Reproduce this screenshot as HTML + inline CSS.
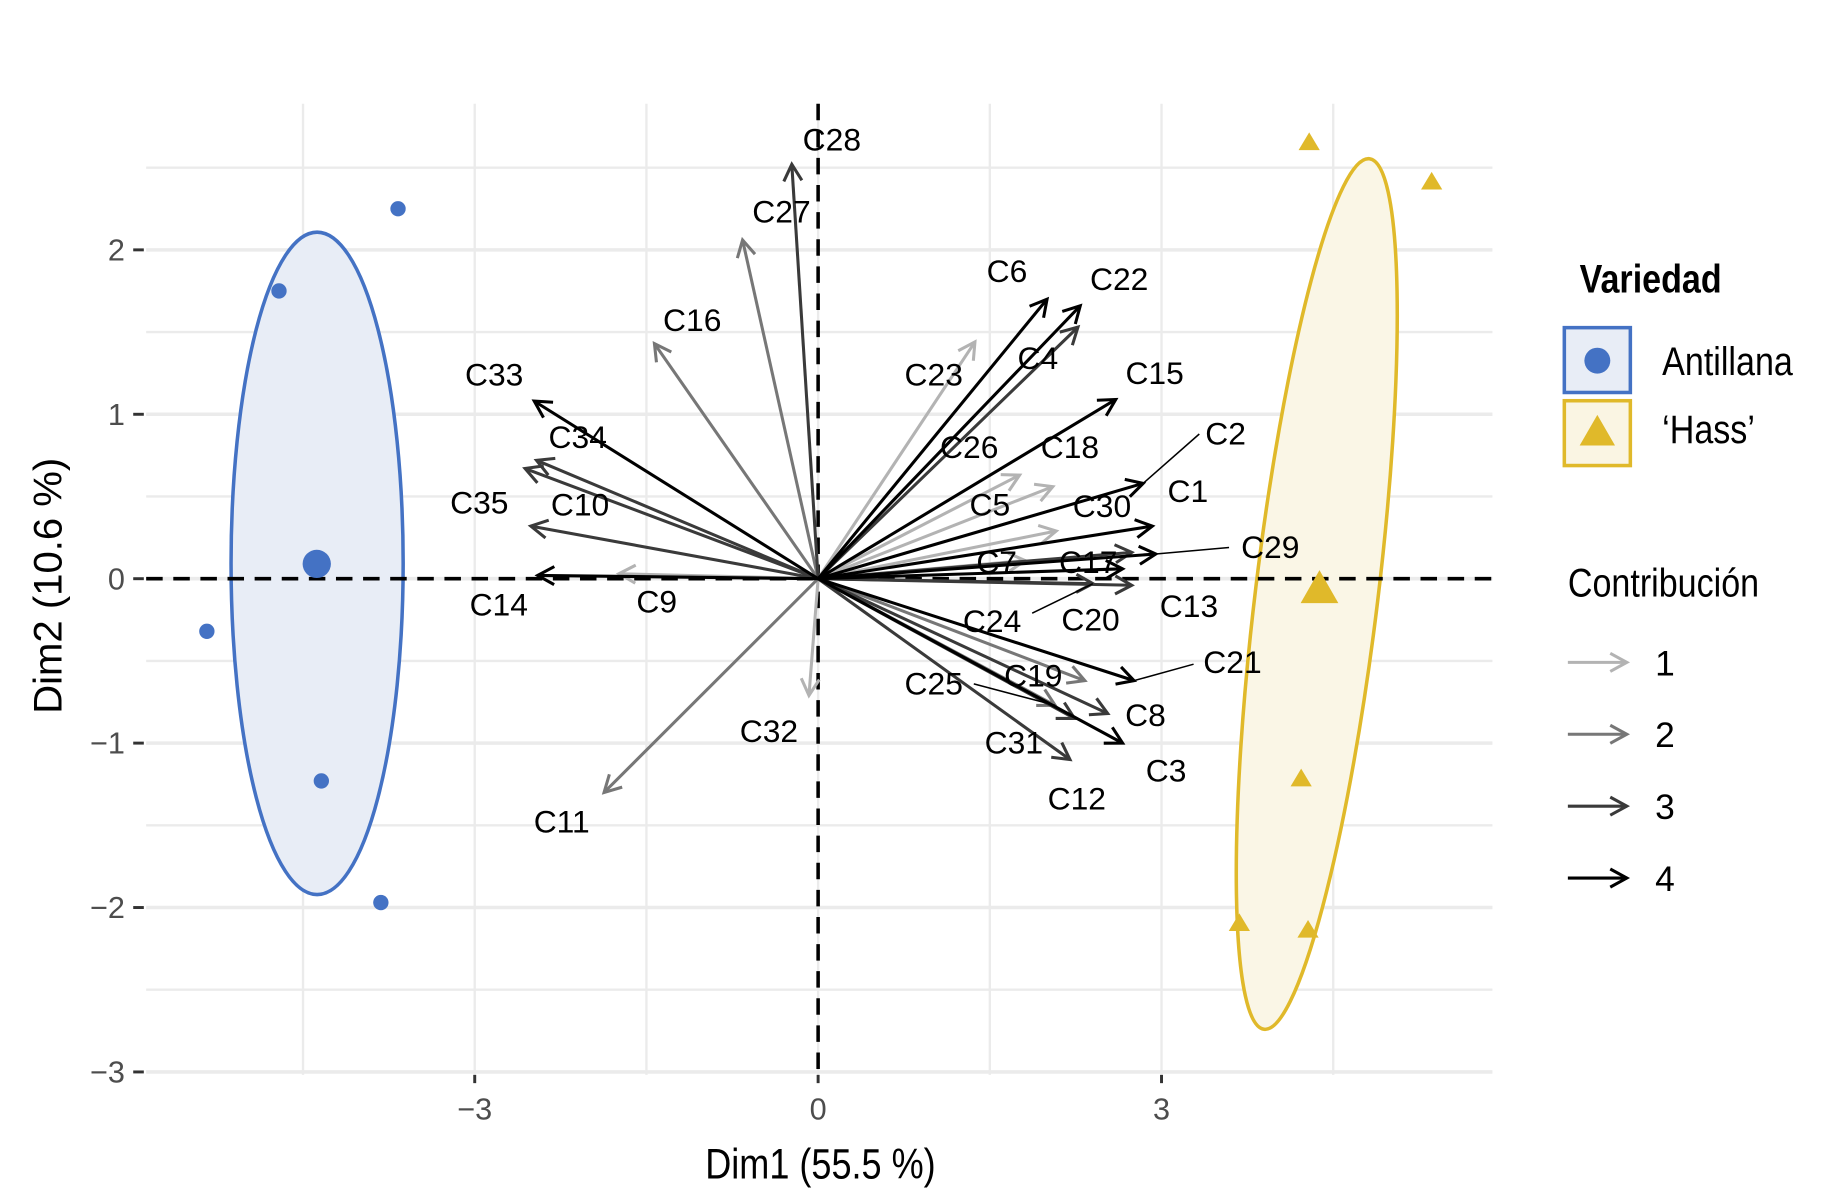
<!DOCTYPE html>
<html><head><meta charset="utf-8"><style>
html,body{margin:0;padding:0;background:#fff}
svg{display:block}
text{font-family:"Liberation Sans Narrow","Liberation Sans",sans-serif}
</style></head><body>
<svg id="chart" width="1839" height="1201" viewBox="0 0 1560 1019" preserveAspectRatio="none" xmlns="http://www.w3.org/2000/svg">
<defs>
<clipPath id="clip"><rect x="124" y="85" width="1142" height="830"/></clipPath>
</defs>
<g id="grid"></g>
<g id="ellipses" clip-path="url(#clip)"></g>
<g id="zero"></g>
<g id="arrows"></g>
<g id="points"></g>
<g id="axes"></g>
<text x="696" y="1000" font-size="36" text-anchor="middle" fill="#000" transform="translate(696 0) scale(0.85 1) translate(-696 0)">Dim1 (55.5 %)</text>
<text x="0" y="0" font-size="34" text-anchor="middle" fill="#000" transform="translate(52 497) rotate(-90)">Dim2 (10.6 %)</text>
<g>
<text x="1340" y="248" font-size="34" font-weight="bold" fill="#000" transform="translate(1340 0) scale(0.85 1) translate(-1340 0)">Variedad</text>
<rect x="1327" y="278" width="56" height="55" fill="#e8edf6" stroke="#4472c4" stroke-width="3"/>
<circle cx="1355" cy="306" r="11" fill="#4472c4"/>
<text x="1410" y="318" font-size="34" fill="#000" transform="translate(1410 0) scale(0.85 1) translate(-1410 0)">Antillana</text>
<rect x="1327" y="340" width="56" height="55" fill="#faf5e3" stroke="#e0b92a" stroke-width="3"/>
<polygon points="1355,352 1370,378 1340,378" fill="#e0b92a"/>
<text x="1410" y="376" font-size="34" fill="#000" transform="translate(1410 0) scale(0.85 1) translate(-1410 0)">‘Hass’</text>
</g>
<g id="legend2">
<text x="1330" y="506" font-size="34" fill="#000" transform="translate(1330 0) scale(0.85 1) translate(-1330 0)">Contribución</text>
</g>
</svg>
<script>
const ns='http://www.w3.org/2000/svg';
const varNames=['C28','C27','C16','C33','C34','C10','C35','C14','C9','C11','C32','C6','C22','C4','C23','C15','C26','C18','C1','C5','C30','C7','C17','C29','C13','C20','C24','C21','C19','C25','C8','C3','C31','C12'];
const varX=[-0.23,-0.66,-1.43,-2.48,-2.46,-2.56,-2.51,-2.45,-1.74,-1.87,-0.08,2.00,2.29,2.27,1.37,2.60,1.76,2.05,2.84,2.08,2.92,1.81,2.74,2.95,2.74,2.66,2.40,2.76,2.33,2.07,2.53,2.66,2.24,2.20];
const varY=[2.52,2.06,1.43,1.08,0.72,0.67,0.32,0.02,0.03,-1.30,-0.71,1.70,1.66,1.53,1.44,1.09,0.63,0.56,0.58,0.29,0.32,0.11,0.16,0.15,-0.04,0.06,-0.03,-0.62,-0.62,-0.77,-0.82,-1.00,-0.85,-1.10];
const varContrib=[3,2,2,4,3,3,3,4,1,2,1,4,4,3,1,4,1,1,4,1,4,1,3,4,3,4,3,4,2,2,3,4,3,3];
const labelX=[0.12,-0.32,-1.10,-2.83,-2.10,-2.08,-2.96,-2.79,-1.41,-2.24,-0.43,1.65,2.63,1.92,1.01,2.94,1.32,2.20,3.23,1.50,2.48,1.56,2.36,3.95,3.24,2.38,1.52,3.62,1.88,1.01,2.86,3.04,1.71,2.26];
const labelY=[2.67,2.23,1.57,1.24,0.86,0.45,0.46,-0.16,-0.14,-1.48,-0.93,1.87,1.82,1.34,1.24,1.25,0.80,0.80,0.53,0.45,0.44,0.10,0.10,0.19,-0.17,-0.25,-0.26,-0.51,-0.59,-0.64,-0.83,-1.17,-1.00,-1.34];
const leaderTarget=['C1','C29','C24','C21','C25'];
const leaderX=[3.33,3.59,1.87,3.28,1.36];
const leaderY=[0.88,0.19,-0.21,-0.52,-0.64];
const indX=[-3.67,-4.71,-5.34,-4.34,-3.82];
const indY=[2.25,1.75,-0.32,-1.23,-1.97];
const hassX=[4.29,5.36,4.22,3.68,4.28];
const hassY=[2.65,2.41,-1.22,-2.10,-2.14];
const centroidX=[-4.38,4.38];
const centroidY=[0.09,-0.07];
const xTicks=[-3,0,3];
const yTicks=[-3,-2,-1,0,1,2];
const contribLevels=[1,2,3,4];

const sx=v=>694+v*97.1, sy=v=>491-v*139.5;
const shade=c=>['#b3b3b3','#777','#3a3a3a','#000'][c-1];
function el(tag,attrs,parent){const e=document.createElementNS(ns,tag);for(const k in attrs)e.setAttribute(k,attrs[k]);parent.appendChild(e);return e;}
const grid=document.getElementById('grid');
[-4.5,-3,-1.5,0,1.5,3,4.5].forEach(v=>{const l=el('line',{x1:sx(v),x2:sx(v),y1:88,y2:912,stroke:'#ebebeb','stroke-width':2},grid);});
for(let v=-3;v<=2.5;v+=0.5){const l=el('line',{x1:124,x2:1266,y1:sy(v),y2:sy(v),stroke:'#ebebeb','stroke-width':Number.isInteger(v)?3:2},grid);}
const eg=document.getElementById('ellipses');
let e1=el('ellipse',{cx:269,cy:478,rx:73,ry:281,fill:'#e8edf6',stroke:'#4472c4','stroke-width':3},eg);

let e2=el('ellipse',{cx:1117,cy:504,rx:52,ry:372,fill:'#faf6e6',stroke:'#e0b92a','stroke-width':3,transform:'rotate(6.9 1117 504)'},eg);

const zg=document.getElementById('zero');
let zx=el('line',{x1:124,x2:1266,y1:sy(0),y2:sy(0),stroke:'#000','stroke-width':3,'stroke-dasharray':'14 9'},zg);

let zy=el('line',{x1:sx(0),x2:sx(0),y1:88,y2:912,stroke:'#000','stroke-width':3,'stroke-dasharray':'14 9'},zg);

const ag=document.getElementById('arrows');
function arrow(x1,y1,x2,y2,col,parent){
 const g=el('g',{},parent);
 el('line',{x1,y1,x2,y2,stroke:col,'stroke-width':2.6},g);
 const a=Math.atan2(y2-y1,x2-x1),L=16,w=0.5;
 el('polyline',{points:`${x2-L*Math.cos(a-w)},${y2-L*Math.sin(a-w)} ${x2},${y2} ${x2-L*Math.cos(a+w)},${y2-L*Math.sin(a+w)}`,fill:'none',stroke:col,'stroke-width':2.6},g);
 return g;
}
const order=varNames.map((_,i)=>i).sort((a,b)=>varContrib[a]-varContrib[b]);
order.forEach(i=>{
 const g=arrow(sx(0),sy(0),sx(varX[i]),sy(varY[i]),shade(varContrib[i]),ag);
 
 
});
leaderTarget.forEach((n,k)=>{
 const i=varNames.indexOf(n);
 if(i<0)return;
 const l=el('line',{x1:sx(leaderX[k]),y1:sy(leaderY[k]),x2:sx(varX[i]),y2:sy(varY[i]),stroke:'#000','stroke-width':1.3},ag);
 
 
});
varNames.forEach((n,i)=>{
 const t=el('text',{x:sx(labelX[i]),y:sy(labelY[i])+9,'font-size':27,'text-anchor':'middle',fill:'#000'},ag);
 t.textContent=n;
 
 
});
{const t=el('text',{x:sx(3.56),y:sy(0.88)+9,'font-size':27,'text-anchor':'middle',fill:'#000'},ag);
 t.textContent='C2';
 
 }
const pg=document.getElementById('points');
indX.forEach((x,i)=>{const c=el('circle',{cx:sx(x),cy:sy(indY[i]),r:6.5,fill:'#4472c4'},pg);
 });
hassX.forEach((x,i)=>{const X=sx(x),Y=sy(hassY[i]);const p=el('polygon',{points:`${X},${Y-9} ${X+9},${Y+6} ${X-9},${Y+6}`,fill:'#e0b92a'},pg);
 });
let c0=el('circle',{cx:sx(centroidX[0]),cy:sy(centroidY[0]),r:12,fill:'#4472c4'},pg);

{const X=sx(centroidX[1]),Y=sy(centroidY[1]);let p=el('polygon',{points:`${X},${Y-17} ${X+16},${Y+11} ${X-16},${Y+11}`,fill:'#e0b92a'},pg);
}
const axg=document.getElementById('axes');
xTicks.forEach(v=>{el('line',{x1:sx(v),x2:sx(v),y1:912,y2:919,stroke:'#333','stroke-width':2.5},axg);
 const t=el('text',{x:sx(v),y:950,'font-size':26,'text-anchor':'middle',fill:'#4d4d4d'},axg);t.textContent=v<0?'−'+(-v):String(v);
 });
yTicks.forEach(v=>{el('line',{x1:113,x2:122,y1:sy(v),y2:sy(v),stroke:'#333','stroke-width':2.5},axg);
 const t=el('text',{x:106,y:sy(v)+9,'font-size':26,'text-anchor':'end',fill:'#4d4d4d'},axg);t.textContent=v<0?'−'+(-v):String(v);
 });
const lg=document.getElementById('legend2');
contribLevels.forEach((c,i)=>{const y=562+i*61;
 const g=arrow(1330,y,1380,y,shade(c),lg);
 
 const t=el('text',{x:1404,y:y+11,'font-size':30,fill:'#000'},lg);t.textContent=String(c);
 });
</script>
</body></html>
